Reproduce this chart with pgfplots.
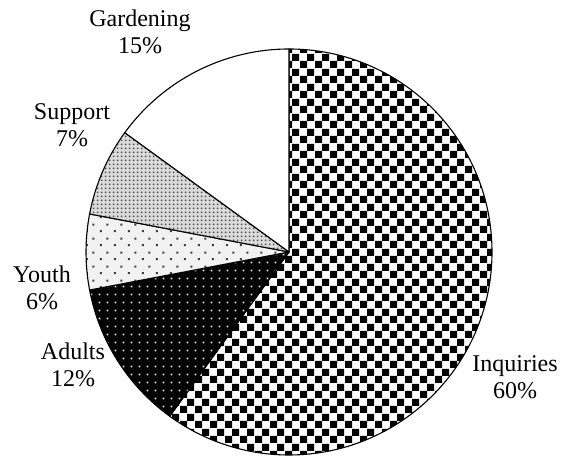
\documentclass[border=0pt]{standalone}
\usepackage{fontspec}
\setmainfont{Liberation Serif}
\usepackage{pgfplots}
\pgfplotsset{compat=1.18}
\usepackage{pgfplotstable}
\usetikzlibrary{patterns}

% form-only patterns, laid over a plain fill (1 px of the reference = 0.5pt)
\pgfdeclarepatternformonly{checker}{\pgfpointorigin}{\pgfqpoint{7.5pt}{7.5pt}}{\pgfqpoint{7.5pt}{7.5pt}}{%
  \pgfpathrectangle{\pgfpointorigin}{\pgfqpoint{3.75pt}{3.75pt}}
  \pgfpathrectangle{\pgfqpoint{3.75pt}{3.75pt}}{\pgfqpoint{3.75pt}{3.75pt}}
  \pgfusepath{fill}}
\pgfdeclarepatternformonly{griddots}{\pgfpointorigin}{\pgfqpoint{4pt}{4pt}}{\pgfqpoint{4pt}{4pt}}{%
  \pgfpathrectangle{\pgfqpoint{1.5pt}{1.5pt}}{\pgfqpoint{1pt}{1pt}}\pgfusepath{fill}}
\pgfdeclarepatternformonly{sparsedots}{\pgfpointorigin}{\pgfqpoint{7pt}{7pt}}{\pgfqpoint{7pt}{7pt}}{%
  \pgfpathrectangle{\pgfqpoint{1pt}{1pt}}{\pgfqpoint{1pt}{1pt}}
  \pgfpathrectangle{\pgfqpoint{4.5pt}{4.5pt}}{\pgfqpoint{1pt}{1pt}}
  \pgfusepath{fill}}
\pgfdeclarepatternformonly{densedots}{\pgfpointorigin}{\pgfqpoint{2pt}{2pt}}{\pgfqpoint{2pt}{2pt}}{%
  \pgfpathrectangle{\pgfqpoint{0.5pt}{0.5pt}}{\pgfqpoint{1pt}{1pt}}\pgfusepath{fill}}
\pgfdeclarepatternformonly{none}{\pgfpointorigin}{\pgfqpoint{4pt}{4pt}}{\pgfqpoint{4pt}{4pt}}{}

\definecolor{bgwhite}{gray}{1}
\definecolor{bgblack}{gray}{0}
\definecolor{bgpale}{gray}{0.95}
\definecolor{bglight}{gray}{0.86}
\definecolor{dotwhite}{gray}{0.88}
\definecolor{dotdark}{gray}{0.25}
\definecolor{dotmid}{gray}{0.3}

% slices clockwise from 12 o'clock; lx, ly = label centre in axis units
\pgfplotstableread{
name      value bg       pat        pcol     lx  ly
Inquiries 60    bgwhite  checker    black    515 81
Adults    12    bgblack  griddots   dotwhite 73  93
Youth     6     bgpale   sparsedots dotdark  42  170
Support   7     bglight  densedots  dotmid   72  333
Gardening 15    bgwhite  none       black    140 426
}\piedata

\begin{document}
\begin{tikzpicture}
\begin{axis}[
    x=0.5pt, y=0.5pt, scale only axis,
    xmin=0, xmax=561, ymin=0, ymax=458,
    hide axis, clip=false,
]
\pgfplotstablegetrowsof{\piedata}
\pgfmathtruncatemacro\nrows{\pgfplotsretval-1}
\def\angstart{90}
\pgfplotsforeachungrouped \i in {0,...,\nrows}{%
  \pgfplotstablegetelem{\i}{value}\of\piedata \let\val\pgfplotsretval
  \pgfplotstablegetelem{\i}{bg}\of\piedata \let\bg\pgfplotsretval
  \pgfplotstablegetelem{\i}{pat}\of\piedata \let\pat\pgfplotsretval
  \pgfplotstablegetelem{\i}{pcol}\of\piedata \let\pcol\pgfplotsretval
  \pgfplotstablegetelem{\i}{name}\of\piedata \let\nm\pgfplotsretval
  \pgfplotstablegetelem{\i}{lx}\of\piedata \let\lx\pgfplotsretval
  \pgfplotstablegetelem{\i}{ly}\of\piedata \let\ly\pgfplotsretval
  \pgfmathsetmacro\angend{\angstart-3.6*\val}
  \edef\slice{(axis cs:289,206) -- ++(\angstart:101.5pt)
    arc[start angle=\angstart, end angle=\angend, radius=101.5pt] -- cycle}
  \edef\cmd{\noexpand\fill[\bg] \slice;
    \noexpand\fill[pattern=\pat, pattern color=\pcol] \slice;
    \noexpand\draw[black, line width=0.55pt, line join=round] \slice;}
  \cmd
  \edef\cmd{\noexpand\node[align=center, inner sep=0pt,
      font=\noexpand\fontsize{12}{13.5}\noexpand\selectfont]
    at (axis cs:\lx,\ly) {\nm\noexpand\\\val\noexpand\%};}
  \cmd
  \global\let\angstart\angend
}
\end{axis}
\path (current axis.south west) rectangle (current axis.north east);
\end{tikzpicture}
\end{document}
